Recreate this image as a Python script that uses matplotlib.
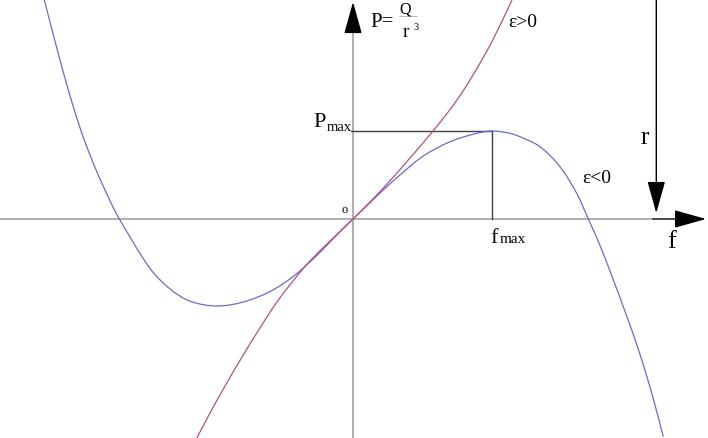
import numpy as np
import matplotlib.pyplot as plt
from matplotlib.path import Path
from matplotlib.patches import PathPatch

# curves (f in units of f_max, P in units of P_max)
blue_f = [-2.221, -2.156, -2.084, -2.012, -1.940, -1.844, -1.748, -1.681,
          -1.460, -1.317, -1.173, -0.981, -0.789, -0.597, -0.429, -0.261, -0.142,
          0.0, 0.218, 0.362, 0.506, 0.698, 0.890, 1.0, 1.129, 1.201, 1.345, 1.489,
          1.609, 1.693, 1.777, 1.873, 1.969, 2.065, 2.160, 2.232]
blue_P = [2.489, 2.091, 1.665, 1.273, 0.926, 0.540, 0.205, 0.0,
          -0.563, -0.795, -0.934, -0.989, -0.943, -0.824, -0.651, -0.415, -0.222,
          0.0, 0.330, 0.534, 0.716, 0.878, 0.974, 1.0, 0.974, 0.935, 0.822, 0.594,
          0.292, 0.0, -0.301, -0.693, -1.102, -1.540, -2.040, -2.474]

red_f = [-1.124, -1.029, -0.933, -0.813, -0.693, -0.537, -0.358, -0.214,
         0.0, 0.218, 0.410, 0.578, 0.698, 0.794, 0.914, 1.009, 1.144]
red_P = [-2.489, -2.205, -1.932, -1.606, -1.297, -0.920, -0.563, -0.324,
         0.0, 0.352, 0.693, 1.006, 1.244, 1.460, 1.773, 2.045, 2.489]

f_max = 1.0
P_max = 1.0

serif = ['Liberation Serif', 'DejaVu Serif']
axis_grey = '#a8a8a8'

fig = plt.figure(figsize=(7.08, 4.38), dpi=100)
ax = fig.add_axes([0, 0, 1, 1])
ax.set_xlim(-2.540, 2.554)
ax.set_ylim(-2.489, 2.489)
ax.axis('off')


def smooth_curve(xs, ys, color):
    # bezier path through the read points (chord-length catmull-rom tangents)
    pts = np.column_stack([xs, ys])
    disp = ax.transData.transform(pts)
    d = np.hypot(*np.diff(disp, axis=0).T)
    n = len(pts)
    tang = np.zeros_like(pts)
    tang[0] = (pts[1] - pts[0]) / d[0]
    tang[-1] = (pts[-1] - pts[-2]) / d[-1]
    for i in range(1, n - 1):
        tang[i] = (pts[i + 1] - pts[i - 1]) / (d[i - 1] + d[i])
    verts = [pts[0]]
    codes = [Path.MOVETO]
    for i in range(n - 1):
        verts += [pts[i] + tang[i] * d[i] / 3, pts[i + 1] - tang[i + 1] * d[i] / 3, pts[i + 1]]
        codes += [Path.CURVE4] * 3
    ax.add_patch(PathPatch(Path(verts, codes), facecolor='none', edgecolor=color,
                           lw=0.9, zorder=3))


# axes
ax.plot([-2.540, 2.158], [0, 0], color=axis_grey, lw=1.3, zorder=1)
ax.plot([0, 0], [-2.489, 2.17], color=axis_grey, lw=1.3, zorder=1)

arrow = dict(arrowstyle='-|>,head_length=1.0,head_width=0.28', mutation_scale=20,
             color='black', lw=1.0, shrinkA=0, shrinkB=0)
ax.annotate('', xy=(2.540, 0), xytext=(2.158, 0), arrowprops=arrow)
ax.annotate('', xy=(0, 2.466), xytext=(0, 2.16), arrowprops=arrow)
ax.annotate('', xy=(2.182, 0.068), xytext=(2.182, 2.489), arrowprops=arrow)

# P_max / f_max guides
ax.plot([-0.014, f_max], [P_max, P_max], color='#404040', lw=1.0, zorder=2)
ax.plot([f_max, f_max], [P_max, 0], color='#404040', lw=1.0, zorder=2)

# curves
smooth_curve(blue_f, blue_P, '#6a6acc')
smooth_curve(red_f, red_P, '#b4507e')

# labels
ax.text(-0.288, 1.045, 'P', fontsize=16, family=serif, va='baseline')
ax.text(-0.187, 1.0, 'max', fontsize=10.5, family=serif, va='baseline')
ax.text(0.986, -0.273, 'f', fontsize=16, family=serif, va='baseline')
ax.text(1.058, -0.273, 'max', fontsize=11, family=serif, va='baseline')
ax.text(-0.058, 0.068, 'o', fontsize=9, family=serif, va='baseline', ha='center')
ax.text(1.115, 2.18, 'ε>0', fontsize=14, family=serif, va='baseline')
ax.text(1.647, 0.409, 'ε<0', fontsize=14, family=serif, va='baseline')
ax.text(2.10, 0.852, 'r', fontsize=18, family=serif, va='baseline', ha='center')
ax.text(2.293, -0.33, 'f', fontsize=19, family=serif, va='baseline', ha='center')

# P = Q / r^3
ax.text(0.122, 2.178, 'P=', fontsize=15, family=serif, va='baseline')
ax.text(0.375, 2.34, 'Q', fontsize=11.5, family=serif, va='baseline', ha='center')
ax.plot([0.331, 0.46], [2.31, 2.31], color='#b0b0b0', lw=0.6)
ax.text(0.382, 2.068, 'r', fontsize=14, family=serif, va='baseline', ha='center')
ax.text(0.435, 2.15, '3', fontsize=7.5, family=serif, va='baseline')

fig.savefig('out.png', dpi=100)
